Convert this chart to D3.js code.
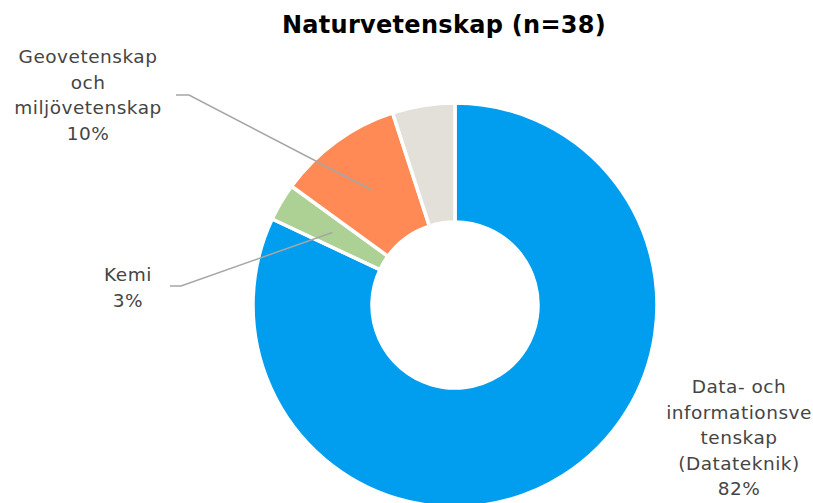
<!DOCTYPE html>
<html>
<head>
<meta charset="utf-8">
<script src="https://cdn.jsdelivr.net/npm/d3@7"></script>
<style>
  body { margin: 0; background: #fff; }
  svg { display: block; }
  text { font-family: "DejaVu Sans", sans-serif; }
</style>
</head>
<body>
<div id="chart"></div>
<script>
// data
var categories = ["Data- och informationsvetenskap (Datateknik)", "Kemi", "Geovetenskap och miljövetenskap", "Övrigt"];
var percents = [82, 3, 10, 5];
var colors = ["#019EEF", "#ADD094", "#FF8A55", "#E3E0D9"];
var labelLines = [
  ["Data- och", "informationsve", "tenskap", "(Datateknik)", "82%"],
  ["Kemi", "3%"],
  ["Geovetenskap", "och", "miljövetenskap", "10%"],
  []
];
var title = "Naturvetenskap (n=38)";

// #####################################################
// layout
//
var width = 813, height = 503;
var cx = 455, cy = 305, rOuter = 202, rInner = 83;
var lineH = 25.5;
// label anchors (x centre, first baseline) and leader elbow
var labelPos = [
  {x: 739, y: 393, elbow: null},
  {x: 128, y: 281, elbow: [[170, 286], [181, 286]]},
  {x: 88,  y: 63,  elbow: [[176, 95], [189, 95]]},
  null
];

var svg = d3.select("#chart").append("svg")
    .attr("width", width)
    .attr("height", height);

svg.append("text")
    .attr("x", 444)
    .attr("y", 33)
    .attr("text-anchor", "middle")
    .style("font-size", "24px")
    .style("font-weight", "bold")
    .style("letter-spacing", "0.3px")
    .style("fill", "#000")
    .text(title);

var pie = d3.pie().sort(null).value(function(d) { return d; });
var arc = d3.arc().innerRadius(rInner).outerRadius(rOuter);
var arcs = pie(percents);

var g = svg.append("g")
    .attr("transform", "translate(" + cx + "," + cy + ")");

g.selectAll("path.slice")
    .data(arcs)
  .enter().append("path")
    .attr("class", "slice")
    .attr("d", arc)
    .style("fill", function(d, i) { return colors[i]; })
    .style("stroke", "#fff")
    .style("stroke-width", 3.5);

// leader lines
arcs.forEach(function(d, i) {
  var lp = labelPos[i];
  if (!lp || !lp.elbow) return;
  var c = arc.centroid(d);
  var pts = lp.elbow.concat([[c[0] + cx, c[1] + cy]]);
  svg.append("path")
      .attr("d", d3.line()(pts))
      .style("fill", "none")
      .style("stroke", "#A6A6A6")
      .style("stroke-width", 1.5);
});

// labels
labelLines.forEach(function(lines, i) {
  var lp = labelPos[i];
  if (!lp) return;
  var t = svg.append("text")
      .attr("text-anchor", "middle")
      .style("font-size", "18.5px")
      .style("letter-spacing", "0.5px")
      .style("fill", "#454545");
  lines.forEach(function(s, k) {
    t.append("tspan")
        .attr("x", lp.x)
        .attr("y", lp.y + k * lineH)
        .text(s);
  });
});
</script>
</body>
</html>
